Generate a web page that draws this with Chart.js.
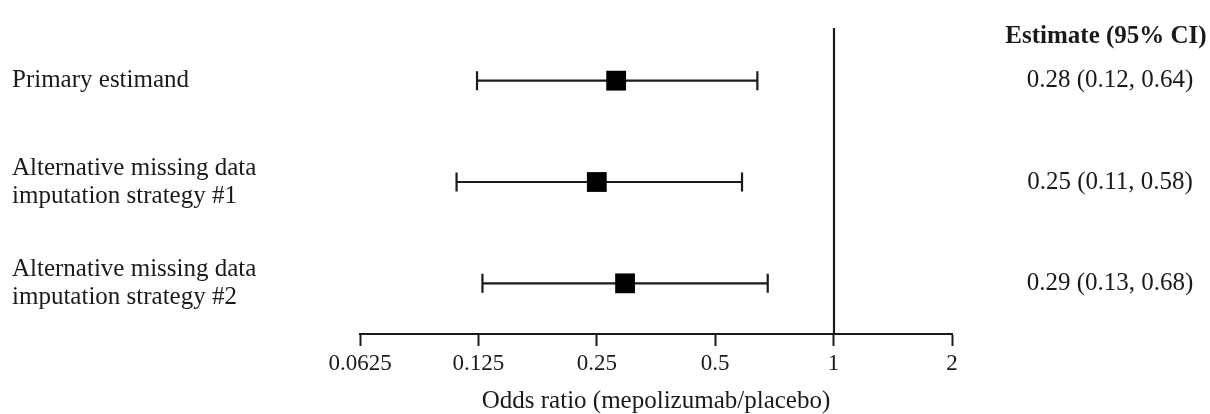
<!DOCTYPE html>
<html>
<head>
<meta charset="utf-8">
<script src="https://cdn.jsdelivr.net/npm/chart.js@4"></script>
<style>
  body { margin: 0; background: #fff; }
  #wrap { width: 1210px; height: 414px; position: relative; }
</style>
</head>
<body>
<div id="wrap"><canvas id="forest"></canvas></div>
<script>
// data
var rowLabels = [
    ['Primary estimand'],
    ['Alternative missing data', 'imputation strategy #1'],
    ['Alternative missing data', 'imputation strategy #2']
];
var estimates = [0.28, 0.25, 0.295];
var lowerCI = [0.124, 0.11, 0.128];
var upperCI = [0.64, 0.585, 0.68];
var estText = ['0.28 (0.12, 0.64)', '0.25 (0.11, 0.58)', '0.29 (0.13, 0.68)'];
var tickValues = [0.0625, 0.125, 0.25, 0.5, 1, 2];
var tickLabels = ['0.0625', '0.125', '0.25', '0.5', '1', '2'];
var refLine = 1;

var serif = '"Liberation Serif", "Times New Roman", serif';
var ink = '#1a1a1a';

// row positions on the hidden y scale: 0.5, 1.5, 2.5
var points = estimates.map(function (v, i) { return { x: v, y: i + 0.5 }; });

var forestPlugin = {
    id: 'forest',
    beforeDatasetsDraw: function (chart) {
        var ctx = chart.ctx;
        var xs = chart.scales.x, ys = chart.scales.y;
        var area = chart.chartArea;
        ctx.save();
        ctx.strokeStyle = ink;
        ctx.lineWidth = 2.2;

        // line of no effect
        var xr = Math.round(xs.getPixelForValue(refLine));
        ctx.beginPath();
        ctx.moveTo(xr, area.top - 2);
        ctx.lineTo(xr, area.bottom);
        ctx.stroke();

        // confidence intervals
        for (var i = 0; i < estimates.length; i++) {
            var y = ys.getPixelForValue(i + 0.5);
            var x1 = xs.getPixelForValue(lowerCI[i]);
            var x2 = xs.getPixelForValue(upperCI[i]);
            ctx.beginPath();
            ctx.moveTo(x1, y);
            ctx.lineTo(x2, y);
            ctx.moveTo(x1, y - 9.5);
            ctx.lineTo(x1, y + 9.5);
            ctx.moveTo(x2, y - 9.5);
            ctx.lineTo(x2, y + 9.5);
            ctx.stroke();
        }
        ctx.restore();
    },
    afterDraw: function (chart) {
        var ctx = chart.ctx;
        var ys = chart.scales.y;
        ctx.save();
        ctx.fillStyle = ink;
        ctx.textBaseline = 'middle';

        ctx.font = 'bold 25px ' + serif;
        ctx.textAlign = 'center';
        ctx.fillText('Estimate (95% CI)', 1106, 37);

        ctx.font = '25px ' + serif;
        for (var i = 0; i < rowLabels.length; i++) {
            var y = ys.getPixelForValue(i + 0.5);
            var lines = rowLabels[i];
            ctx.textAlign = 'left';
            for (var j = 0; j < lines.length; j++) {
                ctx.fillText(lines[j], 12, y + (j - (lines.length - 1) / 2) * 28);
            }
            ctx.textAlign = 'center';
            ctx.fillText(estText[i], 1110, y);
        }
        ctx.restore();
    }
};

new Chart(document.getElementById('forest'), {
    type: 'scatter',
    data: {
        datasets: [{
            data: points,
            pointStyle: 'rect',
            pointRadius: 14,
            pointHoverRadius: 14,
            backgroundColor: '#000',
            borderColor: '#000',
            borderWidth: 0
        }]
    },
    options: {
        responsive: true,
        maintainAspectRatio: false,
        animation: false,
        events: [],
        layout: { padding: { left: 360, right: 258, top: 30, bottom: 0 } },
        plugins: {
            legend: { display: false },
            tooltip: { enabled: false }
        },
        scales: {
            x: {
                type: 'logarithmic',
                min: tickValues[0],
                max: tickValues[tickValues.length - 1],
                afterBuildTicks: function (scale) {
                    scale.ticks = tickValues.map(function (v) { return { value: v }; });
                },
                afterFit: function (scale) { scale.height = 80; },
                grid: {
                    drawOnChartArea: false,
                    drawTicks: true,
                    tickLength: 12,
                    tickWidth: 2,
                    tickColor: ink
                },
                border: { display: true, color: ink, width: 2 },
                ticks: {
                    autoSkip: false,
                    maxRotation: 0,
                    padding: 4,
                    color: ink,
                    font: { family: serif, size: 23 },
                    callback: function (value) {
                        var k = tickValues.indexOf(value);
                        return k >= 0 ? tickLabels[k] : '';
                    }
                },
                title: {
                    display: true,
                    text: 'Odds ratio (mepolizumab/placebo)',
                    color: ink,
                    padding: 0,
                    font: { family: serif, size: 25, lineHeight: 1 }
                }
            },
            y: {
                display: false,
                min: 0,
                max: 3,
                reverse: true
            }
        }
    },
    plugins: [forestPlugin]
});
</script>
</body>
</html>
